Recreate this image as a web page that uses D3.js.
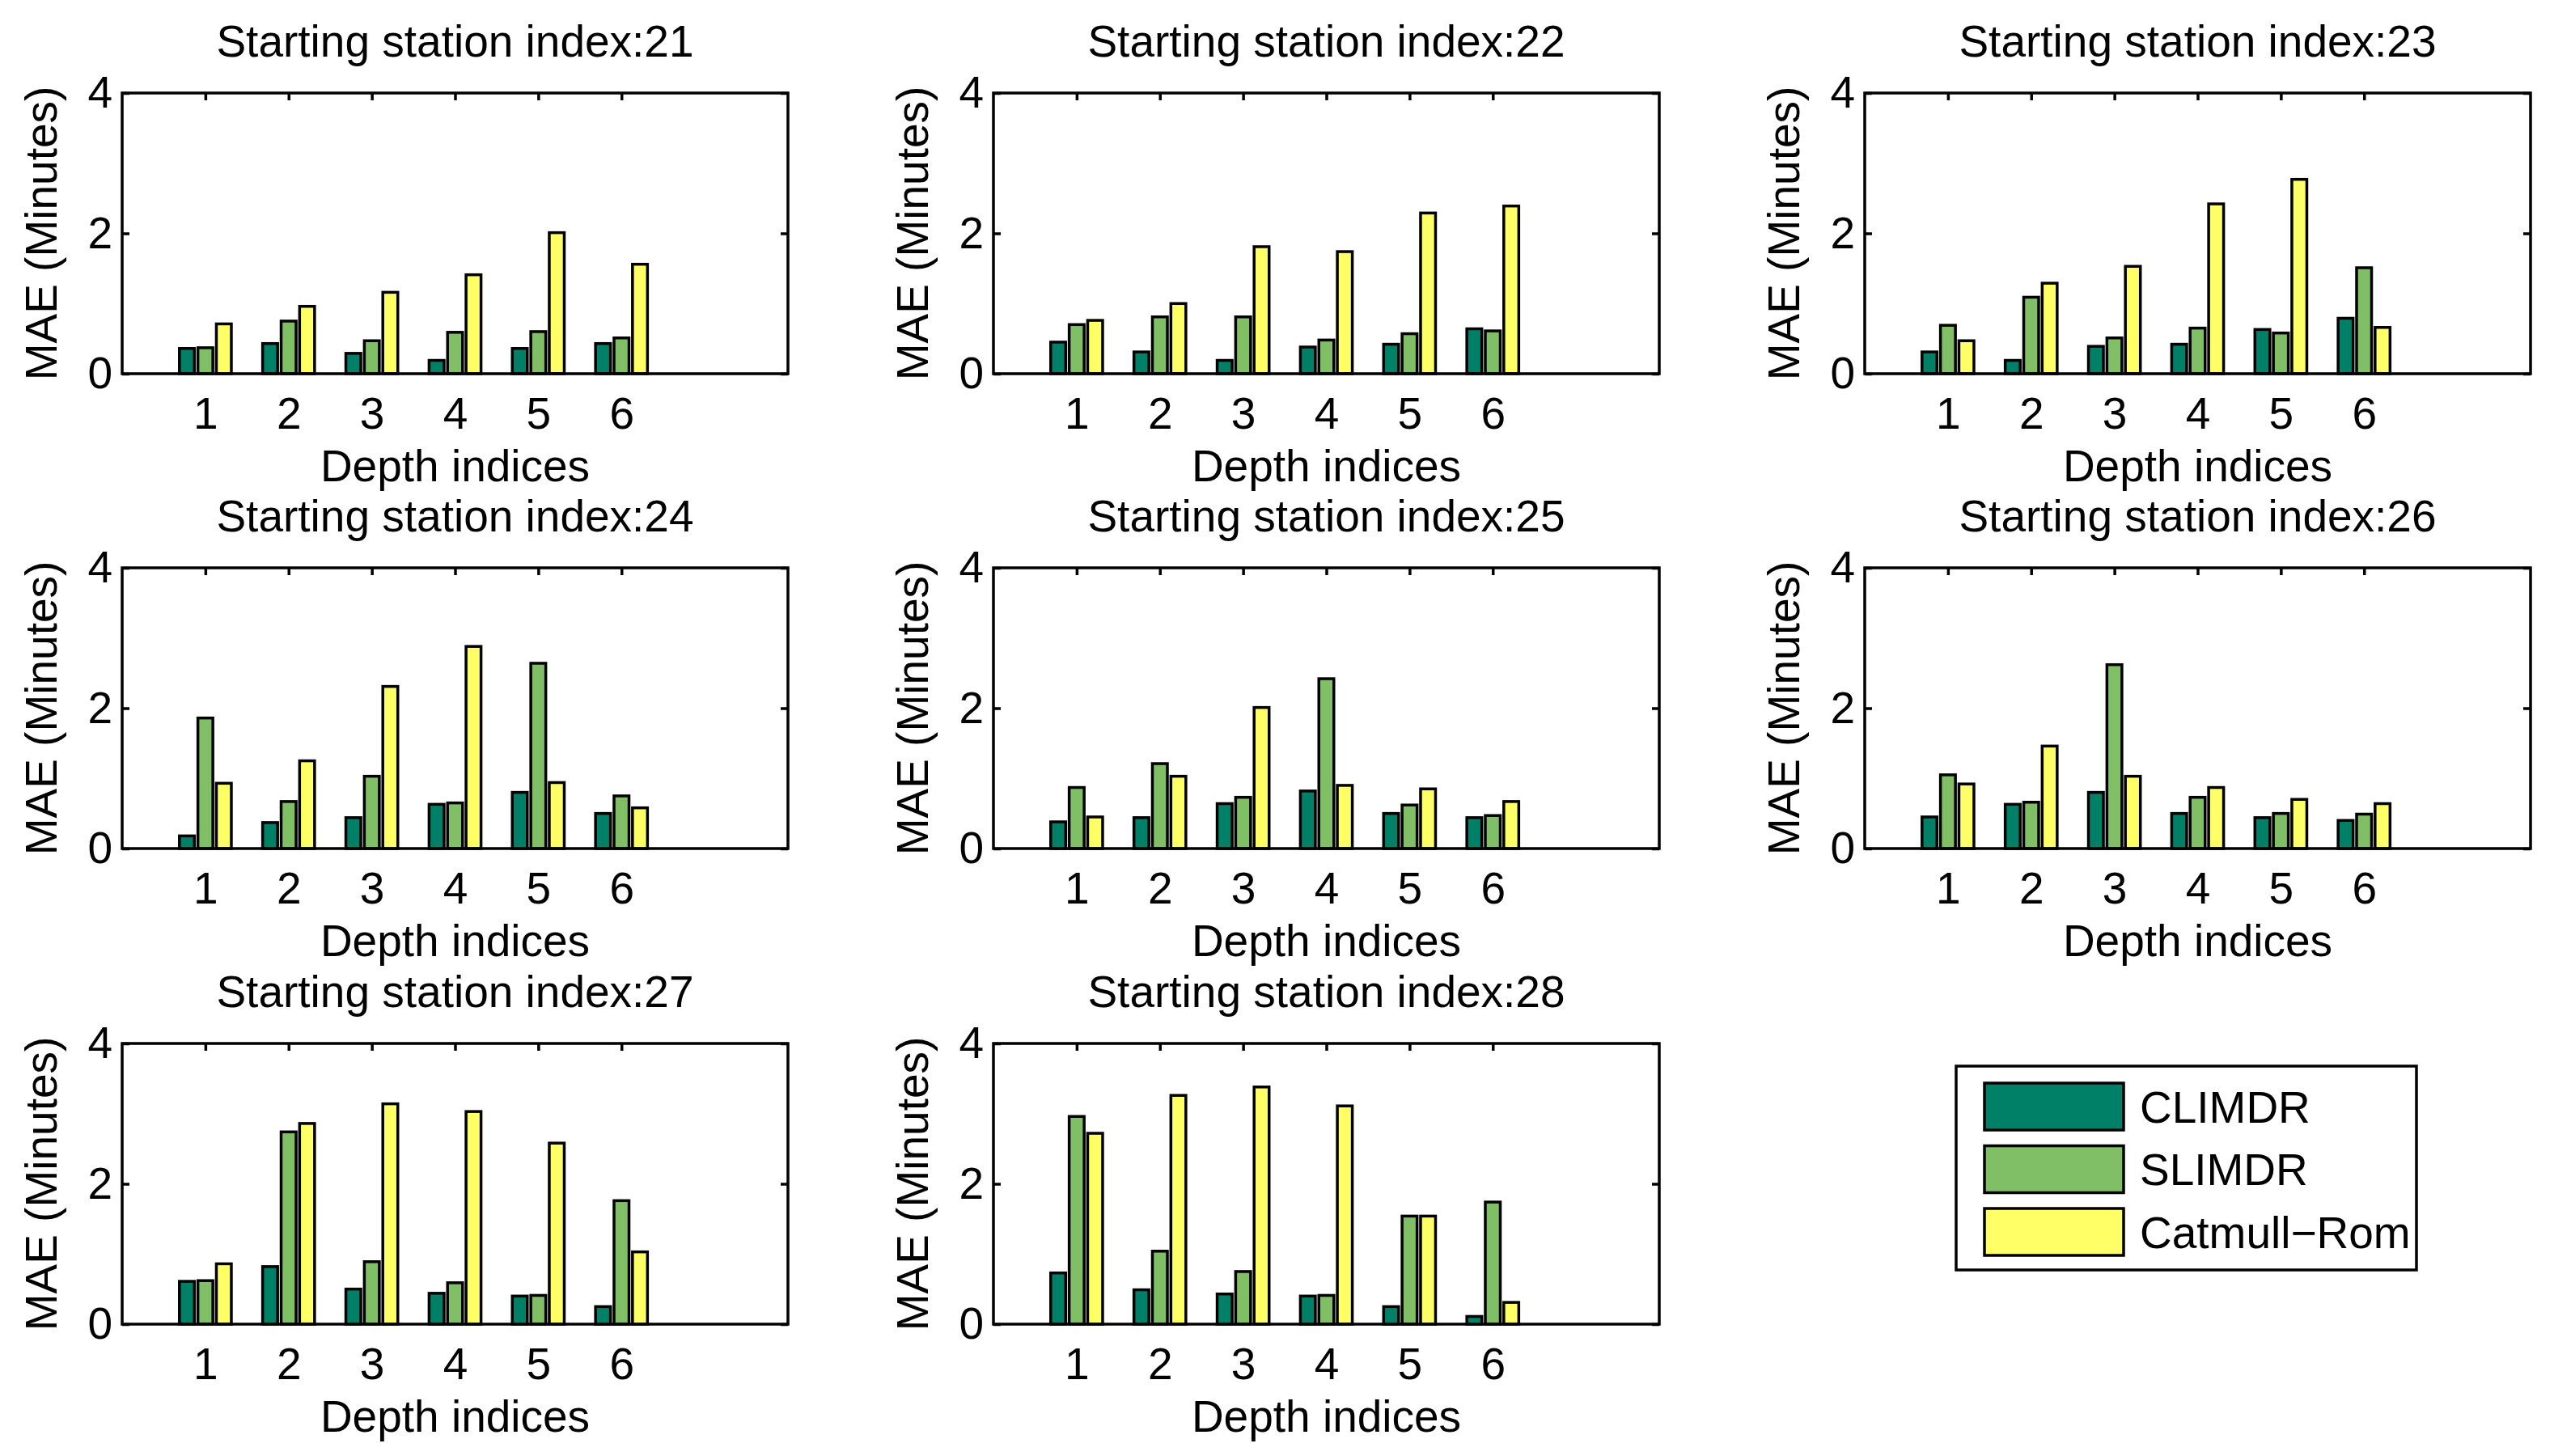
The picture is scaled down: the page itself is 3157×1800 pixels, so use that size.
<!DOCTYPE html>
<html>
<head>
<meta charset="utf-8">
<script src="https://cdn.jsdelivr.net/npm/d3@7"></script>
<style>
  body { margin: 0; background: #fff; }
  svg text { font-family: "Liberation Sans", Arial, Helvetica, sans-serif; fill: #000; }
</style>
</head>
<body>
<div id="chart"></div>
<script>
//DATA
const depths   = [1, 2, 3, 4, 5, 6];
const methods  = ["CLIMDR", "SLIMDR", "Catmull\u2212Rom"];
const stations = [21, 22, 23, 24, 25, 26, 27, 28];
const yTicks   = [0, 2, 4];

//one row per starting station, one value per depth index
const climdr = [
  [0.36, 0.43, 0.29, 0.19, 0.36, 0.43],
  [0.45, 0.31, 0.19, 0.38, 0.42, 0.64],
  [0.31, 0.19, 0.39, 0.42, 0.63, 0.79],
  [0.18, 0.37, 0.44, 0.63, 0.80, 0.50],
  [0.38, 0.44, 0.64, 0.82, 0.50, 0.44],
  [0.45, 0.63, 0.80, 0.50, 0.44, 0.40],
  [0.61, 0.82, 0.50, 0.44, 0.40, 0.25],
  [0.73, 0.49, 0.43, 0.40, 0.25, 0.11]
];
const slimdr = [
  [0.37, 0.75, 0.47, 0.59, 0.60, 0.51],
  [0.70, 0.81, 0.81, 0.48, 0.57, 0.61],
  [0.69, 1.09, 0.51, 0.65, 0.58, 1.51],
  [1.86, 0.67, 1.03, 0.65, 2.64, 0.75],
  [0.87, 1.21, 0.73, 2.42, 0.62, 0.47],
  [1.05, 0.66, 2.62, 0.73, 0.50, 0.49],
  [0.62, 2.74, 0.89, 0.59, 0.41, 1.76],
  [2.96, 1.04, 0.75, 0.41, 1.54, 1.74]
];
const catmull = [
  [0.71, 0.96, 1.16, 1.41, 2.01, 1.56],
  [0.76, 1.00, 1.81, 1.74, 2.29, 2.39],
  [0.47, 1.29, 1.53, 2.42, 2.77, 0.66],
  [0.93, 1.25, 2.31, 2.88, 0.94, 0.58],
  [0.45, 1.03, 2.01, 0.90, 0.85, 0.67],
  [0.92, 1.46, 1.03, 0.87, 0.70, 0.64],
  [0.86, 2.86, 3.14, 3.03, 2.58, 1.03],
  [2.72, 3.26, 3.38, 3.11, 1.54, 0.31]
];
const series = [climdr, slimdr, catmull];

//LAYOUT AND SIZING
const W = 3157, H = 1800;
const colX = [151, 1228, 2305];
const rowY = [115, 702, 1290];
const pw = 823, ph = 347;
const fontSize = 55;
const tickLen = 9;
const lineW = 3.5;
const colors = ["#008066", "#80bf66", "#ffff66"];
const barOffset = [-0.222, 0, 0.222];
const barW = 0.18;

const svg = d3.select("#chart").append("svg")
  .attr("width", W).attr("height", H)
  .attr("viewBox", `0 0 ${W} ${H}`);

const x = d3.scaleLinear().domain([0, 8]).range([0, pw]);
const y = d3.scaleLinear().domain([0, 4]).range([ph, 0]);

stations.forEach((st, si) => {
  const g = svg.append("g")
    .attr("transform", `translate(${colX[si % 3]},${rowY[Math.floor(si / 3)]})`);

  //Axes (ticks inward, labels on left and bottom)
  const left = g.append("g")
    .call(d3.axisLeft(y).tickValues(yTicks).tickSizeInner(-tickLen).tickSizeOuter(0).tickPadding(12).tickFormat(d3.format("d")));
  const right = g.append("g").attr("transform", `translate(${pw},0)`)
    .call(d3.axisRight(y).tickValues(yTicks).tickSizeInner(-tickLen).tickSizeOuter(0).tickFormat(""));
  const top = g.append("g")
    .call(d3.axisTop(x).tickValues(depths).tickSizeInner(-tickLen).tickSizeOuter(0).tickFormat(""));
  const bottom = g.append("g").attr("transform", `translate(0,${ph})`)
    .call(d3.axisBottom(x).tickValues(depths).tickSizeInner(-tickLen).tickSizeOuter(0).tickPadding(29));

  [left, right, top, bottom].forEach(a => {
    a.select(".domain").remove();
    a.selectAll("line").attr("stroke", "#000").attr("stroke-width", lineW);
    a.selectAll("text").style("font-size", fontSize + "px").attr("fill", "#000");
  });

  //Bars
  series.forEach((s, mi) => {
    g.append("g").selectAll("rect").data(s[si])
      .join("rect")
        .attr("x", (d, i) => x(depths[i] + barOffset[mi] - barW / 2))
        .attr("y", d => y(d))
        .attr("width", x(barW) - x(0))
        .attr("height", d => y(0) - y(d))
        .attr("fill", colors[mi])
        .attr("stroke", "#000")
        .attr("stroke-width", lineW);
  });

  //Box
  g.append("rect")
    .attr("x", 0).attr("y", 0).attr("width", pw).attr("height", ph)
    .attr("fill", "none").attr("stroke", "#000").attr("stroke-width", lineW);

  //Titles and labels
  g.append("text")
    .attr("x", pw / 2).attr("y", -45)
    .attr("text-anchor", "middle")
    .style("font-size", fontSize + "px")
    .text(`Starting station index:${st}`);

  g.append("text")
    .attr("x", pw / 2).attr("y", ph + 133)
    .attr("text-anchor", "middle")
    .style("font-size", fontSize + "px")
    .text("Depth indices");

  g.append("text")
    .attr("transform", `translate(-81,${ph / 2}) rotate(-90)`)
    .attr("text-anchor", "middle")
    .style("font-size", fontSize + "px")
    .text("MAE (Minutes)");
});

//Legend
const lg = svg.append("g").attr("transform", "translate(2418,1318)");
lg.append("rect")
  .attr("width", 569).attr("height", 252)
  .attr("fill", "#fff").attr("stroke", "#000").attr("stroke-width", lineW);

const items = lg.selectAll("g.item").data(methods).join("g")
  .attr("class", "item")
  .attr("transform", (d, i) => `translate(35,${21 + i * 77.5})`);
items.append("rect")
  .attr("width", 172).attr("height", 58)
  .attr("fill", (d, i) => colors[i])
  .attr("stroke", "#000").attr("stroke-width", lineW);
items.append("text")
  .attr("x", 192).attr("y", 29).attr("dy", "0.36em")
  .style("font-size", fontSize + "px")
  .text(d => d);
</script>
</body>
</html>
